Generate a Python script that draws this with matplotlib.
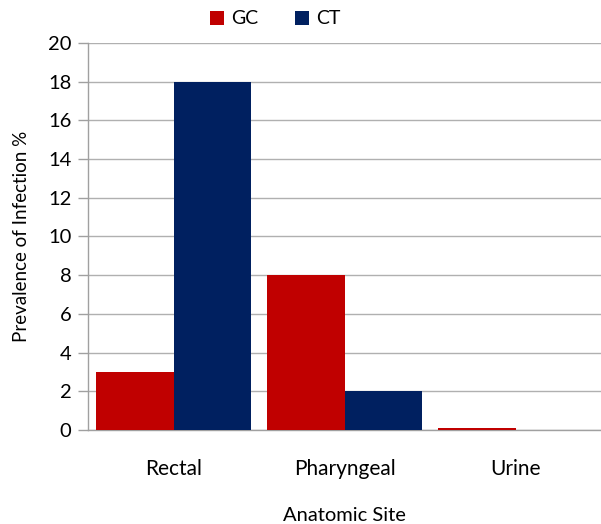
import matplotlib
matplotlib.use("Agg")
import matplotlib.pyplot as plt
import numpy as np

categories = ["Rectal", "Pharyngeal", "Urine"]
gc_values = [3, 8, 0.1]
ct_values = [18, 2, 0]
series_names = ["GC", "CT"]
y_ticks = [0, 2, 4, 6, 8, 10, 12, 14, 16, 18, 20]

plt.rcParams['font.family'] = ['Lato', 'DejaVu Sans']

fig = plt.figure(figsize=(6.01, 5.24), dpi=100)
ax = fig.add_axes([88/601, 1-430/524, 1-88/601, (430-43)/524])

x = np.arange(len(categories))
w = 0.455
ax.bar(x - w/2, gc_values, width=w, color="#C00000", label=series_names[0], zorder=3)
ax.bar(x + w/2, ct_values, width=w, color="#002060", label=series_names[1], zorder=3)

ax.set_xlim(-0.5, 2.5)
ax.set_ylim(0, 20)
ax.set_yticks(y_ticks)
ax.set_xticks(x)
ax.set_xticklabels(categories, fontsize=15)
ax.tick_params(axis='y', labelsize=14.5, length=7, color="#A0A0A0", width=1, pad=5)
ax.tick_params(axis='x', length=0, pad=21)
ax.grid(axis='y', color="#B0B0B0", linewidth=1, zorder=0)
for s in ["top", "right"]:
    ax.spines[s].set_visible(False)
for s in ["left", "bottom"]:
    ax.spines[s].set_color("#A0A0A0")
    ax.spines[s].set_linewidth(1)

ax.set_xlabel("Anatomic Site", fontsize=14.5, va="top")
ax.xaxis.set_label_coords(0.5, -0.199)
ax.set_ylabel("Prevalence of Infection %", fontsize=13.5)
ax.yaxis.set_label_coords(-0.113, 0.5)

fig.legend(loc="center", bbox_to_anchor=(0.458, 1 - 19/524), ncol=2, frameon=False,
           fontsize=14, handlelength=0.72, handleheight=0.72, columnspacing=1.9,
           handletextpad=0.36, borderpad=0, borderaxespad=0)

fig.savefig("out.png", dpi=100)
